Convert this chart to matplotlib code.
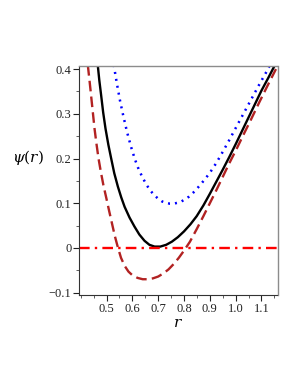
import matplotlib
matplotlib.use('Agg')
import matplotlib.pyplot as plt
from matplotlib.ticker import MultipleLocator

plt.rcParams['font.family'] = ['Liberation Serif', 'DejaVu Serif']

# values
r_solid = [0.466, 0.472, 0.479, 0.487, 0.496, 0.507, 0.518, 0.530, 0.544, 0.557,
           0.570, 0.589, 0.608, 0.627, 0.647, 0.666, 0.686, 0.708, 0.731, 0.753,
           0.776, 0.800, 0.825, 0.849, 0.875, 0.900, 0.925, 0.950, 0.975, 1.000,
           1.025, 1.050, 1.075, 1.100, 1.126, 1.152]
psi_solid = [0.409, 0.375, 0.342, 0.303, 0.267, 0.231, 0.200, 0.167, 0.137, 0.113,
             0.092, 0.068, 0.048, 0.030, 0.016, 0.007, 0.003, 0.003, 0.007, 0.014,
             0.024, 0.037, 0.053, 0.071, 0.095, 0.121, 0.148, 0.175, 0.203, 0.232,
             0.262, 0.292, 0.322, 0.352, 0.380, 0.409]

r_dot = [0.528, 0.540, 0.552, 0.565, 0.580, 0.595, 0.610, 0.625, 0.640, 0.655,
         0.670, 0.685, 0.700, 0.715, 0.730, 0.745, 0.760, 0.775, 0.790, 0.805,
         0.820, 0.840, 0.860, 0.880, 0.900, 0.925, 0.950, 0.975, 1.000, 1.030,
         1.060, 1.090, 1.130]
psi_dot = [0.409, 0.368, 0.330, 0.295, 0.258, 0.226, 0.198, 0.175, 0.157, 0.141,
           0.128, 0.118, 0.110, 0.104, 0.101, 0.099, 0.099, 0.101, 0.104, 0.109,
           0.115, 0.126, 0.139, 0.153, 0.168, 0.190, 0.215, 0.241, 0.268, 0.300,
           0.332, 0.364, 0.405]

r_dash = [0.4275, 0.434, 0.440, 0.447, 0.4535, 0.461, 0.469, 0.478, 0.488, 0.499,
          0.510, 0.521, 0.532, 0.544, 0.556, 0.570, 0.585, 0.600, 0.620, 0.640,
          0.660, 0.680, 0.700, 0.720, 0.740, 0.760, 0.780, 0.800, 0.823, 0.850,
          0.875, 0.900, 0.925, 0.950, 0.975, 1.004, 1.030, 1.060, 1.090, 1.120,
          1.156]
psi_dash = [0.409, 0.375, 0.342, 0.303, 0.267, 0.233, 0.200, 0.170, 0.140, 0.112,
            0.083, 0.055, 0.027, 0.001, -0.022, -0.040, -0.053, -0.061, -0.067, -0.070,
            -0.070, -0.068, -0.064, -0.057, -0.048, -0.036, -0.022, -0.006, 0.014, 0.043,
            0.071, 0.100, 0.129, 0.159, 0.189, 0.222, 0.253, 0.288, 0.324, 0.359,
            0.400]

r_zero = [0.393, 1.162]
psi_zero = [0.0, 0.0]

xticks = [0.5, 0.6, 0.7, 0.8, 0.9, 1.0, 1.1]
xticklabels = ['0.5', '0.6', '0.7', '0.8', '0.9', '1.0', '1.1']
yticks = [-0.1, 0.0, 0.1, 0.2, 0.3, 0.4]
yticklabels = ['\u22120.1', '0', '0.1', '0.2', '0.3', '0.4']

fig = plt.figure(figsize=(3.0, 3.88), dpi=100)
ax = fig.add_axes([0.263, 0.240, 0.662, 0.590])

ax.plot(r_dash, psi_dash, color='#b22222', lw=1.7, dashes=(4.5, 2.2))
ax.plot(r_dot, psi_dot, color='#0000ff', lw=1.8, dashes=(0.8, 2.0))
ax.plot(r_solid, psi_solid, color='black', lw=1.7)
ax.plot(r_zero, psi_zero, color='#ff0000', lw=1.7, dashes=(4.5, 2.2, 1.0, 2.2))

ax.set_xlim(0.393, 1.162)
ax.set_ylim(-0.105, 0.407)

ax.set_xticks(xticks)
ax.set_xticklabels(xticklabels)
ax.set_yticks(yticks)
ax.set_yticklabels(yticklabels)
ax.xaxis.set_minor_locator(MultipleLocator(0.05))
ax.yaxis.set_minor_locator(MultipleLocator(0.05))
ax.tick_params(which='major', length=4, width=0.8, labelsize=9, pad=1.5, colors='#222222')
ax.tick_params(which='minor', length=2, width=0.6, colors='#444444')
ax.tick_params(top=False, right=False)

for side in ['top', 'right']:
    ax.spines[side].set_color('#8c8c8c')
    ax.spines[side].set_linewidth(1.0)
for side in ['left', 'bottom']:
    ax.spines[side].set_color('#333333')
    ax.spines[side].set_linewidth(0.8)

fig.text(0.093, 0.593, r'$\psi(r)$', fontsize=11, ha='center', va='center',
         family='DejaVu Serif', math_fontfamily='dejavuserif')
fig.text(0.593, 0.166, r'$r$', fontsize=11, ha='center', va='center',
         math_fontfamily='dejavuserif')

fig.savefig('out.png', dpi=100)
